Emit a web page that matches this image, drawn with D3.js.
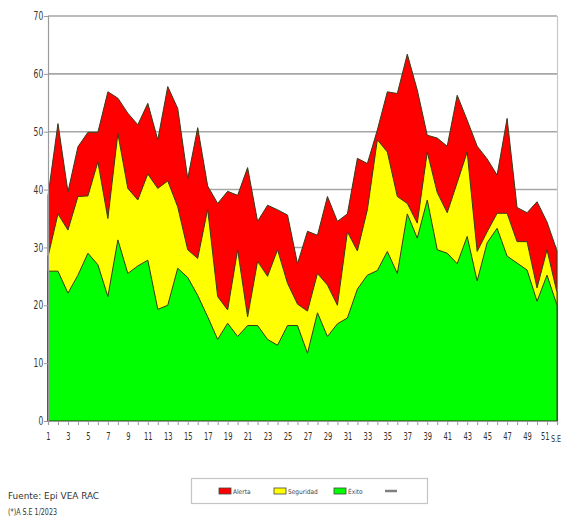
<!DOCTYPE html>
<html>
<head>
<meta charset="utf-8">
<script src="https://cdn.jsdelivr.net/npm/d3@7"></script>
<style>
  html, body { margin: 0; padding: 0; background: #fff; }
  svg { display: block; }
  text { font-family: "Liberation Sans Narrow", "Arial Narrow", "DejaVu Sans Condensed", sans-serif; }
</style>
</head>
<body>
<svg id="chart" width="570" height="527"></svg>
<script>
// ---- data ----
const weeks = d3.range(1, 53);
const exito = [25.9, 25.9, 22.1, 25.2, 29.0, 27.0, 21.5, 31.3, 25.5, 26.8, 27.8, 19.3, 20.0, 26.4, 24.8, 21.7, 18.0, 14.1, 16.9, 14.6, 16.5, 16.5, 14.1, 13.1, 16.5, 16.5, 11.7, 18.7, 14.6, 16.8, 17.8, 22.8, 25.2, 26.0, 29.3, 25.5, 35.8, 31.6, 38.2, 29.6, 29.0, 27.2, 31.9, 24.2, 30.8, 33.3, 28.5, 27.3, 26.1, 20.7, 25.2, 20.0];
const seguridad = [28.4, 35.8, 33.0, 38.8, 38.9, 44.8, 35.0, 49.7, 40.2, 38.2, 42.7, 40.2, 41.5, 37.0, 29.6, 28.1, 36.6, 21.5, 19.2, 29.6, 18.0, 27.6, 25.0, 29.6, 23.8, 20.2, 19.0, 25.5, 23.5, 20.0, 32.7, 29.4, 36.5, 48.6, 46.5, 38.8, 37.6, 34.2, 46.5, 39.5, 36.0, 41.2, 46.5, 29.3, 32.7, 35.9, 35.9, 31.0, 31.0, 23.0, 29.6, 22.2];
const alerta = [38.9, 51.4, 39.6, 47.4, 49.9, 49.9, 56.9, 55.8, 53.2, 51.2, 54.9, 48.6, 57.8, 54.0, 41.9, 50.7, 40.6, 37.6, 39.7, 39.0, 43.8, 34.5, 37.3, 36.5, 35.6, 27.2, 32.8, 32.1, 38.8, 34.5, 35.8, 45.4, 44.5, 50.3, 56.9, 56.6, 63.4, 57.2, 49.4, 48.9, 47.5, 56.3, 52.0, 47.5, 45.3, 42.5, 52.3, 36.9, 36.0, 37.9, 34.4, 29.4];
const yTicks = [0, 10, 20, 30, 40, 50, 60, 70];
const xAxisTitle = "S.E";
const seriesNames = ["Alerta", "Seguridad", "Éxito", ""];
const seriesColors = ["#ff0000", "#ffff00", "#00ff00", "#808080"];
const footnotes = ["Fuente: Epi VEA RAC", "(*)A S.E 1/2023"];

// ---- layout ----
const svg = d3.select("#chart");
const pLeft = 48, pRight = 557, pTop = 16, pBottom = 421;
const footWidths = [91, 49];

const x = d3.scaleLinear().domain([1, 52]).range([pLeft, pRight]);
const y = d3.scaleLinear().domain([0, 70]).range([pBottom, pTop]);

// gridlines
svg.append("g")
  .selectAll("line")
  .data(yTicks.filter(d => d > 0))
  .join("line")
  .attr("x1", pLeft).attr("x2", pRight)
  .attr("y1", d => y(d)).attr("y2", d => y(d))
  .attr("stroke", "#a6a6a6").attr("stroke-width", 1.6);

// right frame line
svg.append("line")
  .attr("x1", pRight + 0.5).attr("x2", pRight + 0.5)
  .attr("y1", pTop).attr("y2", pBottom)
  .attr("stroke", "#c8c8c8").attr("stroke-width", 1.2);

// areas
const layers = [
  { vals: alerta, color: seriesColors[0] },
  { vals: seguridad, color: seriesColors[1] },
  { vals: exito, color: seriesColors[2] }
];
const area = d3.area()
  .x((d, i) => x(weeks[i]))
  .y0(y(0))
  .y1(d => y(d));

svg.append("g")
  .selectAll("path")
  .data(layers)
  .join("path")
  .attr("d", d => area(d.vals))
  .attr("fill", d => d.color)
  .attr("stroke", "#3a3a1a")
  .attr("stroke-width", 1)
  .attr("stroke-linejoin", "round");

// y axis
const yAxis = d3.axisLeft(y).tickValues(yTicks).tickSize(4).tickPadding(5).tickFormat(d3.format("d"));
const gy = svg.append("g").attr("transform", `translate(${pLeft},0)`).call(yAxis);
gy.select(".domain").attr("stroke", "#9a9a9a").attr("stroke-width", 1.2);
gy.selectAll(".tick line").attr("stroke", "#9a9a9a");
gy.selectAll("text").attr("font-size", 10.5).attr("fill", "#333")
  .attr("x", -6).attr("transform", "scale(0.8,1.1)");

// x axis
const xAxis = d3.axisBottom(x).tickValues(weeks).tickSize(4).tickPadding(8)
  .tickFormat(d => (d % 2 === 1 && d <= 51) ? d : "");
const gx = svg.append("g").attr("transform", `translate(0,${pBottom})`).call(xAxis);
gx.select(".domain").attr("stroke", "#9a9a9a").attr("stroke-width", 1.2);
gx.selectAll(".tick line").attr("stroke", "#9a9a9a");
gx.selectAll("text").attr("font-size", 10).attr("fill", "#333")
  .attr("transform", "scale(0.75,1)");
gx.selectAll(".tick").filter(d => d === 51).select("text").attr("dx", -3);

svg.append("text")
  .attr("x", 0).attr("y", 0)
  .attr("transform", `translate(551,${pBottom + 21}) scale(0.75,1)`)
  .attr("text-anchor", "start")
  .attr("font-size", 9.5).attr("fill", "#333")
  .text(xAxisTitle);

// legend
const lg = svg.append("g");
lg.append("rect")
  .attr("x", 191.5).attr("y", 478.5).attr("width", 236).attr("height", 25)
  .attr("fill", "#fff").attr("stroke", "#c4c4c4").attr("stroke-width", 1.2);
const legendX = [219, 274, 334, 385];
seriesNames.forEach((name, i) => {
  const g = lg.append("g").attr("transform", `translate(${legendX[i]},491)`);
  if (i < 3) {
    g.append("rect").attr("x", 0).attr("y", -3).attr("width", 12).attr("height", 6)
      .attr("fill", seriesColors[i]).attr("stroke", "#444").attr("stroke-width", 0.8);
    g.append("text").attr("x", 14).attr("y", 2.5)
      .attr("font-size", 6.5).attr("fill", "#444").text(name);
  } else {
    g.append("line").attr("x1", 0).attr("x2", 12).attr("y1", 0).attr("y2", 0)
      .attr("stroke", seriesColors[i]).attr("stroke-width", 2.5);
  }
});

// footnotes
svg.selectAll("text.foot")
  .data(footnotes)
  .join("text")
  .attr("class", "foot")
  .attr("x", 8).attr("y", (d, i) => 499 + i * 16)
  .attr("font-size", 9.5).attr("fill", "#333")
  .attr("textLength", (d, i) => footWidths[i])
  .attr("lengthAdjust", "spacingAndGlyphs")
  .text(d => d);
</script>
</body>
</html>
